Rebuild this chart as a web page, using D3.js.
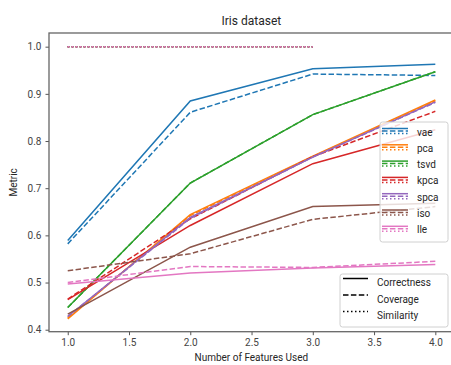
<!DOCTYPE html>
<html><head><meta charset="utf-8">
<script src="https://cdn.jsdelivr.net/npm/d3@7"></script>
<style>body{margin:0;background:#fff}svg{display:block}text{font-family:Roboto,"DejaVu Sans",sans-serif}</style>
</head><body>
<svg id="c" width="451" height="365"></svg>
<script>
const features = [1, 2, 3, 4];
const methods = ["vae", "pca", "tsvd", "kpca", "spca", "iso", "lle"];
const colors = ["#1f77b4", "#ff7f0e", "#2ca02c", "#d62728", "#9467bd", "#8c564b", "#e377c2"];
const correctness = {
  vae:  [0.589, 0.885, 0.953, 0.963],
  pca:  [0.423, 0.644, 0.768, 0.887],
  tsvd: [0.447, 0.711, 0.856, 0.947],
  kpca: [0.464, 0.621, 0.752, 0.824],
  spca: [0.428, 0.638, 0.766, 0.883],
  iso:  [0.433, 0.575, 0.661, 0.668],
  lle:  [0.497, 0.520, 0.531, 0.538]
};
const coverage = {
  vae:  [0.582, 0.861, 0.942, 0.939],
  pca:  [0.425, 0.642, 0.767, 0.885],
  tsvd: [0.447, 0.711, 0.856, 0.947],
  kpca: [0.465, 0.635, 0.767, 0.863],
  spca: [0.428, 0.636, 0.766, 0.882],
  iso:  [0.525, 0.561, 0.634, 0.661],
  lle:  [0.500, 0.534, 0.532, 0.545]
};
const similarity = {
  vae:  [1.0, 1.0, 1.0, null],
  pca:  [1.0, 1.0, 1.0, null],
  tsvd: [1.0, 1.0, 1.0, null],
  kpca: [1.0, 1.0, 1.0, null],
  spca: [1.0, 1.0, 1.0, null],
  iso:  [1.0, 1.0, 1.0, null],
  lle:  [1.0, 1.0, 1.0, null]
};
const xTicks = [1.0, 1.5, 2.0, 2.5, 3.0, 3.5, 4.0];
const yTicks = [0.4, 0.5, 0.6, 0.7, 0.8, 0.9, 1.0];
const metrics = ["Correctness", "Coverage", "Similarity"];
const dashes = [null, "5.5,2.4", "1.5,2.5"];

const svg = d3.select("#c");
const L = 49, R = 453.7, T = 33, B = 331.7;
const x = d3.scaleLinear().domain([0.847, 4.15]).range([L, R]);
const y = d3.scaleLinear().domain([0.3958, 1.029]).range([B, T]);
const grey = "#555";

svg.append("defs").append("clipPath").attr("id", "clip")
  .append("rect").attr("x", L).attr("y", T).attr("width", R - L).attr("height", B - T);

const g = svg.append("g").attr("clip-path", "url(#clip)");
const line = d3.line().defined(d => d[1] != null).x(d => x(d[0])).y(d => y(d[1]));
const sets = [correctness, coverage, similarity];
methods.forEach((m, i) => {
  sets.forEach((s, k) => {
    g.append("path").datum(features.map((f, j) => [f, s[m][j]]))
      .attr("d", line).attr("fill", "none").attr("stroke", colors[i])
      .attr("stroke-width", 1.5).attr("stroke-dasharray", dashes[k]);
  });
});

// axes
const xa = svg.append("g").attr("transform", `translate(0,${B})`)
  .call(d3.axisBottom(x).tickValues(xTicks).tickFormat(d3.format(".1f")).tickSize(3.5).tickPadding(4));
const ya = svg.append("g").attr("transform", `translate(${L},0)`)
  .call(d3.axisLeft(y).tickValues(yTicks).tickFormat(d3.format(".1f")).tickSize(3.5).tickPadding(4));
[xa, ya].forEach(a => {
  a.select(".domain").remove();
  a.selectAll("line").attr("stroke", grey).attr("stroke-width", 1);
  a.selectAll("text").attr("fill", "#444").attr("font-size", 10);
});
svg.append("rect").attr("x", L).attr("y", T).attr("width", R - L).attr("height", B - T)
  .attr("fill", "none").attr("stroke", "#666").attr("stroke-width", 1.3);

svg.append("text").attr("x", (L + R) / 2).attr("y", 25).attr("text-anchor", "middle")
  .attr("font-size", 12).attr("fill", "#262626").text("Iris dataset");
svg.append("text").attr("x", (L + R) / 2).attr("y", 361).attr("text-anchor", "middle")
  .attr("font-size", 10).attr("fill", "#262626").text("Number of Features Used");
svg.append("text").attr("transform", `translate(17,${(T + B) / 2}) rotate(-90)`).attr("text-anchor", "middle")
  .attr("font-size", 10).attr("fill", "#262626").text("Metric");

// legend 1
const lg1 = svg.append("g");
lg1.append("rect").attr("x", 380).attr("y", 122).attr("width", 68).attr("height", 120).attr("rx", 2.5)
  .attr("fill", "rgba(255,255,255,0.8)").attr("stroke", "#d0d0d0").attr("stroke-width", 1);
methods.forEach((m, i) => {
  const cy = 132 + i * 16.3;
  [-3.5, -1, 1.5].forEach((off, k) => {
    lg1.append("line").attr("x1", 382).attr("x2", 408).attr("y1", cy + off).attr("y2", cy + off)
      .attr("stroke", colors[i]).attr("stroke-width", 1.5).attr("stroke-dasharray", dashes[k]);
  });
  lg1.append("text").attr("x", 417).attr("y", cy).attr("dy", "0.35em").attr("font-size", 10)
    .attr("fill", "#262626").text(m);
});

// legend 2
const lg2 = svg.append("g");
lg2.append("rect").attr("x", 340).attr("y", 274).attr("width", 108).attr("height", 53).attr("rx", 2.5)
  .attr("fill", "rgba(255,255,255,0.8)").attr("stroke", "#d0d0d0").attr("stroke-width", 1);
metrics.forEach((m, k) => {
  const cy = 282.5 + k * 16.5;
  lg2.append("line").attr("x1", 343).attr("x2", 368).attr("y1", cy - 4).attr("y2", cy - 4)
    .attr("stroke", "#000").attr("stroke-width", 1.5).attr("stroke-dasharray", dashes[k]);
  lg2.append("text").attr("x", 377).attr("y", cy).attr("dy", "0.35em").attr("font-size", 10)
    .attr("fill", "#262626").text(m);
});
</script>
</body></html>
